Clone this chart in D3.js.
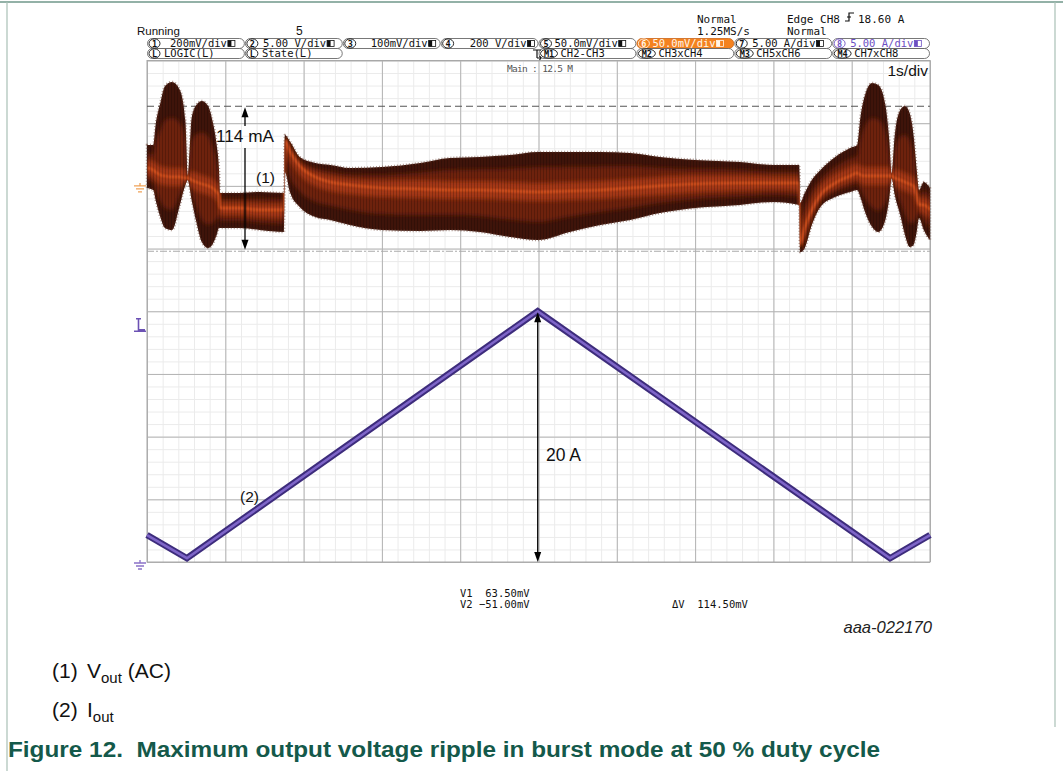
<!DOCTYPE html>
<html><head><meta charset="utf-8">
<script src="https://cdn.jsdelivr.net/npm/d3@7"></script>
<style>body{margin:0;background:#fff;} svg{display:block;} text{white-space:pre;}</style>
</head><body>
<svg id="c" width="1063" height="771"></svg>
<script>
// ---------------- DATA ----------------
// time axis: 1 s/div, 10 divisions
const timeMajor = d3.range(0, 10.001, 1);
const timeMinor = d3.range(0, 10.001, 0.2);
// current channel (CH8) 5 A/div, 8 divisions
const ampMajor = d3.range(0, 40.001, 5);
const ampMinor = d3.range(0, 40.001, 1);

// (1) Vout AC ripple envelope, mV (CH6, 50 mV/div)
const vT   = [0.00,0.08,0.11,0.17,0.23,0.32,0.42,0.49,0.52,0.57,0.63,0.70,0.78,0.84,0.89,0.92,0.93,1.19,1.44,1.75,1.76,1.83,1.95,2.15,2.34,2.59,3.00,3.49,3.87,4.25,4.64,4.99,5.40,5.79,6.17,6.55,7.00,7.57,8.00,8.33,8.34,8.40,8.49,8.60,8.79,8.98,9.07,9.11,9.17,9.26,9.34,9.43,9.48,9.51,9.55,9.62,9.68,9.74,9.79,9.83,9.86,9.92,10.0];
const vHi  = [32.6,32.6,48.6,66.1,79.7,82.9,76.5,52.6,7.9,54.1,64.5,67.7,63.7,51.0,32.6,12.7,-5.7,-5.7,-4.9,-5.7,40.6,35.0,23.1,18.3,16.7,14.3,15.1,18.3,22.3,23.1,24.6,27.0,27.0,27.0,26.2,23.1,20.7,19.1,16.7,16.7,-13.6,-5.7,4.7,12.7,23.1,30.2,32.6,54.1,72.5,82.1,80.5,64.5,36.6,9.5,40.6,60.5,63.7,58.1,40.6,12.7,-3.3,3.1,-1.7];
const vLo  = [-1.7,-3.3,-11.2,-24.8,-33.6,-35.2,-15.2,0.7,4.7,-11.2,-28.8,-44.7,-49.5,-46.3,-39.2,-33.6,-33.6,-33.6,-35.2,-36.8,11.1,-5.7,-16.8,-24.8,-27.2,-31.2,-35.2,-36.0,-35.2,-36.8,-40.8,-43.2,-36.8,-31.2,-27.2,-21.7,-17.7,-15.2,-12.8,-15.2,-53.0,-49.5,-31.2,-16.8,-8.9,-4.9,-3.3,-8.9,-20.9,-32.8,-36.8,-27.2,-9.7,6.3,-7.3,-23.3,-39.2,-48.7,-47.1,-36.8,-25.6,-35.2,-43.2];
const vMid = [14.3,12.7,11.1,8.7,7.9,7.1,7.1,6.3,6.3,4.7,3.1,1.5,0,-1.7,-4.9,-7.3,-17.7,-17.7,-19.2,-19.2,36.6,27.0,15.9,7.1,3.1,0.7,-1.7,-2.5,-3.3,-3.3,-4.1,-4.9,-4.1,-3.3,-1.7,0,1.5,2.3,2.3,2.3,-47.1,-33.6,-19.2,-7.3,2.3,7.9,10.3,8.7,7.9,7.9,7.9,7.9,7.9,7.9,6.3,4.7,3.1,1.5,0,-7.3,-15.2,-15.2,-19.2];

// (2) Iout triangle, A
const iT = [0, 0.51, 4.99, 9.49, 10];
const iA = [2.15, 0.3, 20.0, 0.3, 2.15];

// cursors (mV) and trigger level (A)
const cursorV1 = 63.5, cursorV2 = -51.0;
const triggerLevel = 18.60;

// header labels
const row1 = [
  {n:"1", t:"200mV/div"}, {n:"2", t:"5.00 V/div"}, {n:"3", t:"100mV/div"}, {n:"4", t:"200 V/div"},
  {n:"5", t:"50.0mV/div"}, {n:"6", t:"50.0mV/div"}, {n:"7", t:"5.00 A/div"}, {n:"8", t:"5.00 A/div"}];
const row1Off = [23, 18, 28, 29, 16, 16, 18, 18];
const row2 = [
  {n:"L", t:"LOGIC(L)"}, {n:"L", t:"State(L)"}, null, null,
  {n:"M1", t:"CH2-CH3"}, {n:"M2", t:"CH3xCH4"}, {n:"M3", t:"CH5xCH6"}, {n:"M4", t:"CH7xCH8"}];

// ---------------- DRAW ----------------
const svg = d3.select('#c');
const GX0 = 147, GX1 = 930, GY0 = 60.5, GY1 = 562;
const xS = d3.scaleLinear().domain([0, 10]).range([GX0, GX1]);
const yI = d3.scaleLinear().domain([0, 40]).range([GY1, GY0]);
const yV = d3.scaleLinear().domain([-300, 100]).range([GY1, GY0]);

const mono = "'DejaVu Sans Mono', monospace";
const sans = "'Liberation Sans', Arial, sans-serif";

const defs = svg.append('defs');
defs.append('filter').attr('id','blur2').attr('x','-10%').attr('y','-50%').attr('width','120%').attr('height','200%')
  .append('feGaussianBlur').attr('stdDeviation', 2.2);
defs.append('filter').attr('id','blur1').attr('x','-10%').attr('y','-50%').attr('width','120%').attr('height','200%')
  .append('feGaussianBlur').attr('stdDeviation', 1.0);
const pat = defs.append('pattern').attr('id','stripes').attr('patternUnits','userSpaceOnUse')
  .attr('width', 3).attr('height', 10);
pat.append('rect').attr('x',0).attr('y',0).attr('width',1).attr('height',10).attr('fill','#000').attr('opacity',0.2);

// page frame
svg.append('line').attr('x1',0).attr('x2',1063).attr('y1',2).attr('y2',2).attr('stroke','#6f978a').attr('stroke-width',1.5);
svg.append('line').attr('x1',7).attr('x2',7).attr('y1',2).attr('y2',771).attr('stroke','#a9c0b6').attr('stroke-width',1.2);
svg.append('line').attr('x1',1055).attr('x2',1055).attr('y1',2).attr('y2',727).attr('stroke','#a9c0b6').attr('stroke-width',1.2);

// grid
function noDomain(g){ g.select('.domain').remove(); }
svg.append('g').attr('transform',`translate(0,${GY1})`)
  .call(d3.axisBottom(xS).tickValues(timeMinor).tickSize(-(GY1-GY0)).tickFormat(''))
  .call(noDomain).selectAll('line').attr('stroke','#ebebeb');
svg.append('g').attr('transform',`translate(${GX0},0)`)
  .call(d3.axisLeft(yI).tickValues(ampMinor).tickSize(-(GX1-GX0)).tickFormat(''))
  .call(noDomain).selectAll('line').attr('stroke','#ebebeb');
svg.append('g').attr('transform',`translate(0,${GY1})`)
  .call(d3.axisBottom(xS).tickValues(timeMajor).tickSize(-(GY1-GY0)).tickFormat(''))
  .call(noDomain).selectAll('line').attr('stroke','#b3b3b3');
svg.append('g').attr('transform',`translate(${GX0},0)`)
  .call(d3.axisLeft(yI).tickValues(ampMajor).tickSize(-(GX1-GX0)).tickFormat(''))
  .call(noDomain).selectAll('line').attr('stroke','#b3b3b3');
svg.append('rect').attr('x',GX0).attr('y',GY0).attr('width',GX1-GX0).attr('height',GY1-GY0)
  .attr('fill','none').attr('stroke','#a8a8a8');

// cursors
svg.append('line').attr('x1',GX0).attr('x2',GX1).attr('y1',yV(cursorV1)).attr('y2',yV(cursorV1))
  .attr('stroke','#555').attr('stroke-width',1.2).attr('stroke-dasharray','7,4');
svg.append('line').attr('x1',GX0).attr('x2',GX1).attr('y1',yV(cursorV2)+1.5).attr('y2',yV(cursorV2)+1.5)
  .attr('stroke','#aaa').attr('stroke-width',1.1).attr('stroke-dasharray','7,2,2,2');

// ripple envelope
const idx = d3.range(vT.length);
function band(k, cap){
  return d3.area().curve(d3.curveMonotoneX).x(i => xS(vT[i]))
    .y1(i => { const m = yV(vMid[i]), h = m - yV(vHi[i]); return m - Math.min(h*k, cap); })
    .y0(i => { const m = yV(vMid[i]), l = yV(vLo[i]) - m; return m + Math.min(l*k, cap); });
}
defs.append('clipPath').attr('id','envClip').append('path').attr('d', band(1, 999)(idx));
const rip = svg.append('g');
rip.append('path').attr('d', band(1, 999)(idx)).attr('fill','#3f140a')
  .attr('stroke','#6e4638').attr('stroke-width',2.5).attr('stroke-dasharray','1,2').attr('stroke-opacity',0.55);
const ripIn = rip.append('g').attr('clip-path','url(#envClip)');
ripIn.append('path').attr('d', band(0.62, 999)(idx)).attr('fill','#6e240f').attr('filter','url(#blur2)');
ripIn.append('path').attr('d', band(0.35, 9)(idx)).attr('fill','#a53914').attr('filter','url(#blur2)');
ripIn.append('path').attr('d', d3.line().curve(d3.curveMonotoneX).x(i=>xS(vT[i])).y(i=>yV(vMid[i]))(idx))
  .attr('fill','none').attr('stroke','#e65c24').attr('stroke-width',2.2).attr('filter','url(#blur1)').attr('opacity',0.85);
ripIn.append('path').attr('d', band(1, 999)(idx)).attr('fill','url(#stripes)');

// current triangle
const tri = d3.line().x((d,i)=>xS(iT[i])).y((d,i)=>yI(iA[i]));
svg.append('path').attr('d', tri(iT)).attr('fill','none').attr('stroke','#3d2c7c').attr('stroke-width',6.5);
svg.append('path').attr('d', tri(iT)).attr('fill','none').attr('stroke','#7e65c8').attr('stroke-width',2.6);

// channel markers
function ground(g, x, y, col){
  g.append('path').attr('d',`M${x-6},${y}H${x+6}M${x-4},${y+3}H${x+4}M${x-2},${y+6}H${x+2}M${x},${y-3}V${y}`)
    .attr('stroke',col).attr('stroke-width',1.3).attr('fill','none');
}
ground(svg, 140, yV(0), '#f0a258');
ground(svg, 140, yI(0)+1, '#8a72c8');
svg.append('path').attr('d',`M${136},${yI(triggerLevel)-10}H${141}M${138.5},${yI(triggerLevel)-10}V${yI(triggerLevel)+1}H${145}M${134},${yI(triggerLevel)+2.5}H${146}`)
  .attr('stroke','#6c52b4').attr('stroke-width',1.6).attr('fill','none');

// annotation arrows
function arrow(x, y1, y2, gap){
  const g = svg.append('g');
  if (gap){
    g.append('line').attr('x1',x).attr('x2',x).attr('y1',y1+8).attr('y2',gap[0]).attr('stroke','#000').attr('stroke-width',1.3);
    g.append('line').attr('x1',x).attr('x2',x).attr('y1',gap[1]).attr('y2',y2-8).attr('stroke','#000').attr('stroke-width',1.3);
  } else {
    g.append('line').attr('x1',x).attr('x2',x).attr('y1',y1+8).attr('y2',y2-8).attr('stroke','#000').attr('stroke-width',1.3);
  }
  g.append('path').attr('d',`M${x},${y1}L${x-3.5},${y1+10}L${x+3.5},${y1+10}Z`).attr('fill','#000');
  g.append('path').attr('d',`M${x},${y2}L${x-3.5},${y2-10}L${x+3.5},${y2-10}Z`).attr('fill','#000');
}
arrow(245, yV(cursorV1)+1, yV(cursorV2), [126, 148]);
arrow(xS(iT[2]), yI(iA[2])+1, yI(0));

function txt(x, y, s, size, opts={}){
  const t = svg.append('text').attr('x',x).attr('y',y).text(s)
    .attr('font-family', opts.font || sans).attr('font-size', size)
    .attr('fill', opts.fill || '#111');
  if (opts.anchor) t.attr('text-anchor', opts.anchor);
  if (opts.weight) t.attr('font-weight', opts.weight);
  if (opts.style) t.attr('font-style', opts.style);
  return t;
}
txt(216, 142, '114 mA', 17.2);
txt(256, 183, '(1)', 15.5);
txt(240, 502, '(2)', 15.5);
txt(546, 461, '20 A', 17.5);
txt(928, 76, '1s/div', 15.5, {anchor:'end'});
txt(507, 72, 'Main : 12.5 M', 9.5, {font:mono, fill:'#555'}).attr('textLength',66);

// header
txt(137, 35, 'Running', 11.5, {fill:'#111'});
txt(296, 35, '5', 12, {fill:'#111'});
txt(697, 23, 'Normal', 11, {font:mono});
txt(697, 35, '1.25MS/s', 11, {font:mono});
txt(787, 23, 'Edge CH8', 11, {font:mono});
svg.append('path').attr('d','M845,21H849V13H854M847,17H851').attr('stroke','#111').attr('stroke-width',1.2).attr('fill','none');
txt(858, 23, '18.60 A', 11, {font:mono});
txt(787, 35, 'Normal', 11, {font:mono});

const boxW = (GX1 - GX0) / 8;
function headerRow(items, offs, y, isRow1){
  items.forEach((it, i) => {
    if (!it) return;
    const x = GX0 + i*boxW;
    const orange = isRow1 && i === 5, purple = isRow1 && i === 7;
    svg.append('rect').attr('x', x+0.5).attr('y', y).attr('width', boxW-1).attr('height', 10).attr('rx',5).attr('ry',5)
      .attr('fill', orange ? '#f4821f' : '#fff').attr('stroke', orange ? '#c9661a' : '#555').attr('stroke-width',0.8);
    const col = orange ? '#fff6ea' : purple ? '#6b4ec2' : '#111';
    const nw = it.n.length > 1 ? 8.5 : 5.5;
    svg.append('ellipse').attr('cx', x+2+nw).attr('cy', y+5).attr('rx', nw).attr('ry', 4.6)
      .attr('fill','none').attr('stroke', col).attr('stroke-width',0.9);
    txt(x+2+nw, y+8.3, it.n, 8.5, {font:mono, fill:col, anchor:'middle', weight:'bold'});
    const off = offs ? offs[i] : (it.n.length > 1 ? 22 : 17);
    const t = txt(x+off, y+8.7, it.t, 10.5, {font:mono, fill:col});
    if (isRow1){
      const w = t.node().getComputedTextLength();
      svg.append('rect').attr('x', x+off+w+1).attr('y', y+2).attr('width',7).attr('height',6)
        .attr('fill','none').attr('stroke', col).attr('stroke-width',0.8);
      svg.append('rect').attr('x', x+off+w+1).attr('y', y+2).attr('width',3.5).attr('height',6).attr('fill', col);
    }
  });
}
headerRow(row1, row1Off, 38.5, true);
headerRow(row2, null, 48.5, false);
// trigger position marker
svg.append('path').attr('d','M533,50H541M537,50V58M537,58H541M539.5,56L541,58L539.5,60')
  .attr('stroke','#111').attr('stroke-width',1.2).attr('fill','none');

// cursor readouts
txt(460, 597, 'V1  63.50mV', 10.5, {font:mono});
txt(460, 608, 'V2 \u221251.00mV', 10.5, {font:mono});
txt(672, 608, '\u0394V  114.50mV', 10.5, {font:mono});
txt(932, 633, 'aaa-022170', 16.6, {anchor:'end', style:'italic', fill:'#222'});

// caption
txt(52, 678, '(1)', 21);
const v = txt(87, 678, 'V', 21);
v.append('tspan').attr('font-size', 15).attr('dy', 5).text('out');
v.append('tspan').attr('dy', -5).text(' (AC)');
txt(52, 717, '(2)', 21);
const ii = txt(87, 717, 'I', 21);
ii.append('tspan').attr('font-size', 15).attr('dy', 5).text('out');
txt(8, 757, 'Figure 12.  Maximum output voltage ripple in burst mode at 50 % duty cycle', 22,
  {weight:'bold', fill:'#14594a'}).attr('textLength', 872).attr('lengthAdjust','spacingAndGlyphs');
</script>
</body></html>
